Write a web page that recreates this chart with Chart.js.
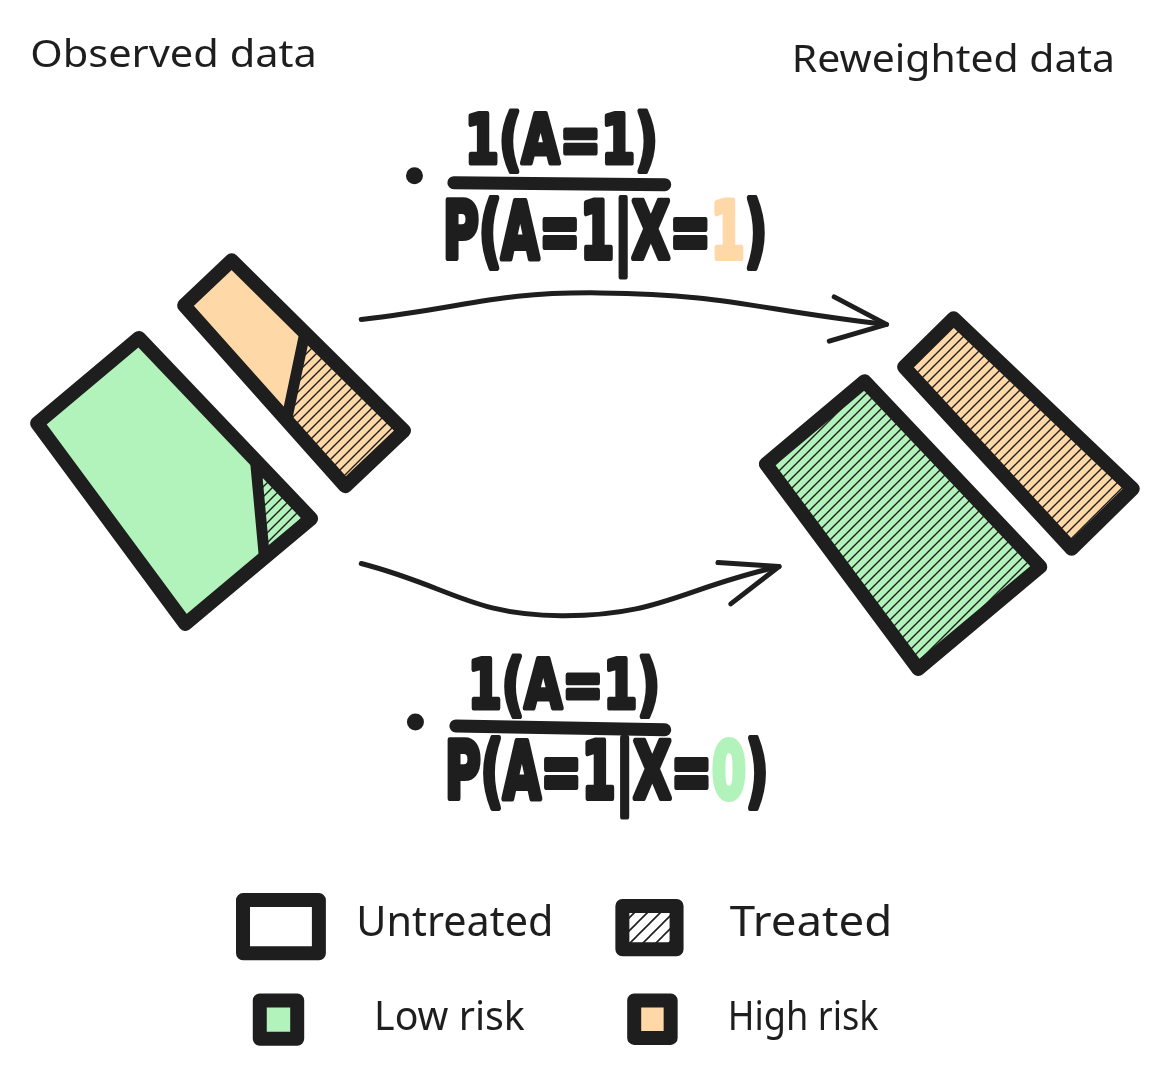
<!DOCTYPE html>
<html>
<head>
<meta charset="utf-8">
<title>Reweighting sketch</title>
<script src="https://cdn.jsdelivr.net/npm/chart.js@4.4.1/dist/chart.umd.min.js"></script>
<style>
  html, body { margin: 0; padding: 0; background: #ffffff; }
  #sketch { display: block; }
</style>
</head>
<body>
<canvas id="sketch" width="1160" height="1070"></canvas>
<script>
"use strict";

// ---- data -------------------------------------------------------------
const groups = ['Low risk', 'High risk'];
const observedShare = [0.67, 0.33];       // relative group size
const observedTreated = [0.06, 0.47];     // treated fraction per group
const reweightedShare = [0.65, 0.35];
const reweightedTreated = [1, 1];
const riskLevel = ['0', '1'];             // value of X per group
const panelTitles = ['Observed data', 'Reweighted data'];
const legendLabels = ['Untreated', 'Treated', 'Low risk', 'High risk'];

// ---- style / layout ---------------------------------------------------
const W = 1160, H = 1070;
const INK = '#1e1e1e';
const GREEN = '#b2f2bb';
const ORANGE = '#ffd8a8';
const groupFill = [GREEN, ORANGE];
const THICK_SCALE = 225;
const TAPER = 0.21;
const LABEL_FONT = '"Noto Sans", "Open Sans", sans-serif';
const MATH_FONT = '"DejaVu Sans", "Liberation Sans", sans-serif';

const barLayout = {
  observed: [
    { cx: 162, cy: 475, angle: 50, length: 253, tilt: 0.87 },
    { cx: 287, cy: 368, angle: 46.5, length: 246, tilt: 0.21 },
  ],
  reweighted: [
    { cx: 902, cy: 520, angle: 50, length: 259, tilt: 0 },
    { cx: 1022, cy: 429, angle: 45.5, length: 251, tilt: 0 },
  ],
};

// arrows: high risk on top, low risk below
const arrowLayout = [
  { group: 0, from: [358, 564], via: [561, 617], to: [782, 567], barbs: [[720, 563], [733, 605]] },
  { group: 1, from: [358, 316], via: [600, 289], to: [891, 321], barbs: [[838, 293], [833, 338]] },
];

const formulaLayout = [
  { group: 0, dot: [413, 725], bar: [[454, 729], [666, 733]],
    num: { x0: 466, x1: 661, base: 711, size: 68 },
    den: { x0: 443, x1: 771, base: 802, size: 78 } },
  { group: 1, dot: [412, 170], bar: [[452, 177], [666, 179]],
    num: { x0: 463, x1: 659, base: 157, size: 68 },
    den: { x0: 441, x1: 770, base: 254, size: 78 } },
];

const titleLayout = [
  { x0: 22, x1: 313, base: 59, size: 38 },
  { x0: 795, x1: 1123, base: 65, size: 38 },
];

const legendLayout = [
  { box: [238, 906, 315, 960], text: [353, 553], base: 942, size: 42 },
  { box: [623, 912, 678, 956], text: [732, 897], base: 942, size: 42 },
  { box: [255, 1008, 293, 1047], text: [371, 524], base: 1038, size: 40 },
  { box: [635, 1008, 672, 1046], text: [730, 883], base: 1038, size: 40 },
];

// ---- helpers ----------------------------------------------------------
function hatch(bg, size, lineWidth) {
  const c = document.createElement('canvas');
  c.width = size;
  c.height = size;
  const g = c.getContext('2d');
  g.fillStyle = bg;
  g.fillRect(0, 0, size, size);
  g.strokeStyle = INK;
  g.lineWidth = lineWidth;
  g.beginPath();
  for (const k of [0, 1, 2]) {
    g.moveTo(-1, k * size + 1);
    g.lineTo(k * size + 1, -1);
  }
  g.stroke();
  return g.createPattern(c, 'repeat');
}

const pt = (x, y) => ({ x, y });
const lerp = (p, q, s) => pt(p.x + (q.x - p.x) * s, p.y + (q.y - p.y) * s);

function barCorners(l, share) {
  const th = l.angle * Math.PI / 180;
  const ux = Math.cos(th), uy = Math.sin(th);
  const nx = -uy, ny = ux;
  const t = share * THICK_SCALE;
  const t0 = t * (1 - TAPER / 2), t1 = t * (1 + TAPER / 2);
  const near = pt(l.cx - ux * l.length / 2, l.cy - uy * l.length / 2);
  const far = pt(l.cx + ux * l.length / 2, l.cy + uy * l.length / 2);
  return [
    pt(near.x - nx * t0 / 2, near.y - ny * t0 / 2),
    pt(far.x - nx * t1 / 2, far.y - ny * t1 / 2),
    pt(far.x + nx * t1 / 2, far.y + ny * t1 / 2),
    pt(near.x + nx * t0 / 2, near.y + ny * t0 / 2),
  ];
}

function local(q, s, t) {
  return lerp(lerp(q[0], q[1], s), lerp(q[3], q[2], s), t);
}

// treated part of a bar in local (along, across) coordinates
function treatedRegion(share, tilt) {
  if (share <= 0) return null;
  if (share >= 1) return { poly: [[0, 0], [1, 0], [1, 1], [0, 1]], split: null };
  if (share >= tilt / 2) {
    const a = 1 - share - tilt / 2;
    return { poly: [[a, 0], [1, 0], [1, 1], [a + tilt, 1]], split: [[a, 0], [a + tilt, 1]] };
  }
  const a = 1 - Math.sqrt(2 * tilt * share);
  const v = (1 - a) / tilt;
  return { poly: [[a, 0], [1, 0], [1, v]], split: [[a, 0], [1, v]] };
}

const CLEAR = 'rgba(0,0,0,0)';

function shape(points, fillStyle, strokeWidth) {
  return {
    data: points.concat([points[0]]),
    backgroundColor: fillStyle || CLEAR,
    fill: fillStyle ? 'shape' : false,
    borderColor: strokeWidth ? INK : CLEAR,
    borderWidth: strokeWidth || 1,
    borderJoinStyle: 'round',
    borderCapStyle: 'round',
    tension: 0,
    pointRadius: 0,
  };
}

function stroke(points, width, tension) {
  return {
    data: points,
    fill: false,
    borderColor: INK,
    borderWidth: width,
    borderJoinStyle: 'round',
    borderCapStyle: 'round',
    tension: tension || 0,
    pointRadius: 0,
  };
}

// ---- build datasets ---------------------------------------------------
const datasets = [];
const barHatch = [hatch(GREEN, 10, 1.4), hatch(ORANGE, 10, 1.4)];
const whiteHatch = hatch('#ffffff', 13, 1.6);

function addBar(l, share, treated, gi) {
  const q = barCorners(l, share);
  datasets.push(shape(q, groupFill[gi], 0));
  const region = treatedRegion(treated, l.tilt);
  if (region) {
    datasets.push(shape(region.poly.map(p => local(q, p[0], p[1])), barHatch[gi], 0));
    if (region.split) {
      datasets.push(stroke(region.split.map(p => local(q, p[0], p[1])), 11));
    }
  }
  datasets.push(shape(q, null, 14));
}

groups.forEach((g, i) => {
  addBar(barLayout.observed[i], observedShare[i], observedTreated[i], i);
  addBar(barLayout.reweighted[i], reweightedShare[i], reweightedTreated[i], i);
});

arrowLayout.forEach(a => {
  datasets.push(stroke([a.from, a.via, a.to].map(p => pt(p[0], p[1])), 5, 0.45));
  datasets.push(stroke([a.barbs[0], a.to, a.barbs[1]].map(p => pt(p[0], p[1])), 5));
});

formulaLayout.forEach(f => {
  datasets.push(stroke(f.bar.map(p => pt(p[0], p[1])), 13));
  datasets.push({
    data: [pt(f.dot[0], f.dot[1])],
    showLine: false,
    pointRadius: 8.5,
    pointBackgroundColor: INK,
    pointBorderWidth: 0,
  });
});

const legendFill = ['#ffffff', whiteHatch, GREEN, ORANGE];
legendLayout.forEach((l, i) => {
  const [x0, y0, x1, y1] = l.box;
  datasets.push(shape([pt(x0, y0), pt(x1, y0), pt(x1, y1), pt(x0, y1)], legendFill[i], 14));
});

datasets.forEach((d, i) => { d.order = -i; });

// ---- text -------------------------------------------------------------
function fitText(chart, parts, x0, x1, base, font, weight) {
  const ctx = chart.ctx;
  const sx = chart.scales.x, sy = chart.scales.y;
  const px0 = sx.getPixelForValue(x0), px1 = sx.getPixelForValue(x1);
  ctx.save();
  ctx.font = font;
  ctx.textAlign = 'left';
  ctx.textBaseline = 'alphabetic';
  ctx.lineJoin = 'round';
  const total = parts.reduce((s, p) => s + ctx.measureText(p.t).width, 0);
  ctx.translate(px0, sy.getPixelForValue(base));
  ctx.scale((px1 - px0) / total, 1);
  let x = 0;
  parts.forEach(p => {
    ctx.fillStyle = p.c;
    ctx.fillText(p.t, x, 0);
    if (weight) {
      ctx.strokeStyle = p.c;
      ctx.lineWidth = weight;
      ctx.strokeText(p.t, x, 0);
    }
    x += ctx.measureText(p.t).width;
  });
  ctx.restore();
}

const sketchText = {
  id: 'sketchText',
  afterDatasetsDraw(chart) {
    panelTitles.forEach((t, i) => {
      const l = titleLayout[i];
      fitText(chart, [{ t, c: INK }], l.x0, l.x1, l.base, `400 ${l.size}px ${LABEL_FONT}`);
    });
    formulaLayout.forEach(f => {
      fitText(chart, [{ t: '1(A=1)', c: INK }], f.num.x0, f.num.x1, f.num.base,
        `bold ${f.num.size}px ${MATH_FONT}`, 5);
      fitText(chart, [
        { t: 'P(A=1|X=', c: INK },
        { t: riskLevel[f.group], c: groupFill[f.group] },
        { t: ')', c: INK },
      ], f.den.x0, f.den.x1, f.den.base, `bold ${f.den.size}px ${MATH_FONT}`, 6);
    });
    legendLabels.forEach((t, i) => {
      const l = legendLayout[i];
      fitText(chart, [{ t, c: INK }], l.text[0], l.text[1], l.base, `400 ${l.size}px ${LABEL_FONT}`);
    });
  },
};

new Chart(document.getElementById('sketch'), {
  type: 'line',
  data: { datasets },
  options: {
    responsive: false,
    animation: false,
    events: [],
    layout: { padding: 0 },
    scales: {
      x: { type: 'linear', min: 0, max: W, display: false },
      y: { type: 'linear', min: 0, max: H, reverse: true, display: false },
    },
    plugins: {
      legend: { display: false },
      tooltip: { enabled: false },
    },
  },
  plugins: [sketchText],
});
</script>
</body>
</html>
